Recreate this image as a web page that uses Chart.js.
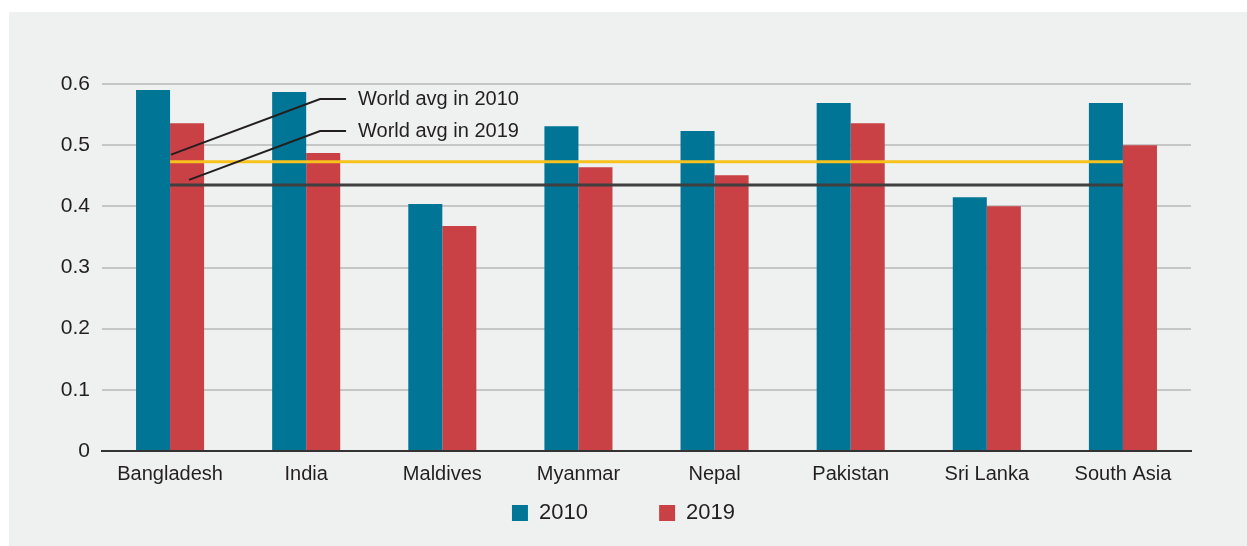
<!DOCTYPE html>
<html>
<head>
<meta charset="utf-8">
<script src="https://cdn.jsdelivr.net/npm/chart.js@4"></script>
<style>
  body { margin: 0; background: #ffffff; }
  #panel { position: absolute; left: 9px; top: 12px; width: 1238px; height: 534px; background: #eff0f0; }
  #chart { position: absolute; left: 0; top: 0; }
</style>
</head>
<body>
<div id="panel"></div>
<canvas id="chart" width="1247" height="546"></canvas>
<script>
const categories = ["Bangladesh", "India", "Maldives", "Myanmar", "Nepal", "Pakistan", "Sri Lanka", "South Asia"];
const values2010 = [0.590, 0.587, 0.404, 0.531, 0.523, 0.569, 0.415, 0.569];
const values2019 = [0.536, 0.487, 0.368, 0.464, 0.451, 0.536, 0.400, 0.500];
const worldAvg2010 = [0.473, 0.473, 0.473, 0.473, 0.473, 0.473, 0.473, 0.473];
const worldAvg2019 = [0.435, 0.435, 0.435, 0.435, 0.435, 0.435, 0.435, 0.435];
const yTicks = [0, 0.1, 0.2, 0.3, 0.4, 0.5, 0.6];

const textColor = "#231f20";
const family = "'Liberation Sans', Arial, sans-serif";
const font = { family: family, size: 20, lineHeight: 1 };

// leader lines + labels for the two world average lines
const avgLabels = {
  id: "avgLabels",
  afterDatasetsDraw(chart) {
    const { ctx, chartArea, scales: { x, y } } = chart;
    const x0 = x.getPixelForValue(0);
    const items = [
      { text: "World avg in 2010", sx: x0 + 1, sy: y.getPixelForValue(worldAvg2010[0]) - 7, ly: chartArea.top + 15 },
      { text: "World avg in 2019", sx: x0 + 19, sy: y.getPixelForValue(worldAvg2019[0]) - 5, ly: chartArea.top + 47 }
    ];
    ctx.save();
    ctx.strokeStyle = textColor;
    ctx.lineWidth = 2;
    ctx.fillStyle = textColor;
    ctx.font = "20px " + family;
    ctx.textBaseline = "middle";
    items.forEach((it) => {
      ctx.beginPath();
      ctx.moveTo(it.sx, it.sy);
      ctx.lineTo(x0 + 150, it.ly);
      ctx.lineTo(x0 + 176, it.ly);
      ctx.stroke();
      ctx.fillText(it.text, x0 + 188, it.ly);
    });
    ctx.restore();
  }
};

new Chart(document.getElementById("chart"), {
  type: "bar",
  data: {
    labels: categories,
    datasets: [
      { label: "2010", data: values2010, backgroundColor: "#007596", order: 1, categoryPercentage: 0.5, barPercentage: 1.0 },
      { label: "2019", data: values2019, backgroundColor: "#c94045", order: 1, categoryPercentage: 0.5, barPercentage: 1.0 },
      { type: "line", label: "World avg 2010", data: worldAvg2010, borderColor: "#f7c11e", borderWidth: 3, pointRadius: 0, order: 0 },
      { type: "line", label: "World avg 2019", data: worldAvg2019, borderColor: "#3f3f3f", borderWidth: 3, pointRadius: 0, order: 0 }
    ]
  },
  options: {
    responsive: false,
    animation: false,
    devicePixelRatio: 1,
    layout: { padding: { top: 84, right: 0, bottom: 12, left: 0 } },
    plugins: {
      tooltip: { enabled: false },
      legend: {
        position: "bottom",
        labels: {
          color: textColor,
          font: { family: family, size: 22, lineHeight: 1 },
          boxWidth: 16,
          boxHeight: 16,
          padding: 16,
          generateLabels(chart) {
            const items = Chart.defaults.plugins.legend.labels.generateLabels(chart)
              .filter((it) => it.datasetIndex < 2)
              .map((it) => Object.assign(it, { lineWidth: 0, strokeStyle: "rgba(0,0,0,0)" }));
            // invisible spacer to widen the gap between the two entries
            items.splice(1, 0, { text: "  ", fillStyle: "rgba(0,0,0,0)", strokeStyle: "rgba(0,0,0,0)", lineWidth: 0, hidden: false, datasetIndex: -1 });
            return items;
          }
        }
      }
    },
    scales: {
      x: {
        afterFit(scale) { scale.height = 35; },
        grid: { display: false, drawTicks: false },
        border: { color: "#333333", width: 2 },
        ticks: { color: textColor, font: font, padding: 13 }
      },
      y: {
        min: 0,
        max: 0.6,
        afterFit(scale) { scale.width = 102; },
        afterBuildTicks(scale) { scale.ticks = yTicks.map((v) => ({ value: v })); },
        grid: {
          drawTicks: false,
          lineWidth: 2,
          color: (c) => (c.tick && c.tick.value === 0 ? "rgba(0,0,0,0)" : "#c6c6c6")
        },
        border: { display: false },
        ticks: {
          color: textColor,
          font: { family: family, size: 21, lineHeight: 1 },
          padding: 12,
          callback: (v) => (v === 0 ? "0" : v.toFixed(1))
        }
      },
      // empty right-hand axis, only reserves the right margin
      yRight: {
        position: "right",
        afterFit(scale) { scale.width = 56; },
        grid: { display: false, drawTicks: false },
        border: { display: false },
        ticks: { display: false }
      }
    }
  },
  plugins: [avgLabels]
});
</script>
</body>
</html>
